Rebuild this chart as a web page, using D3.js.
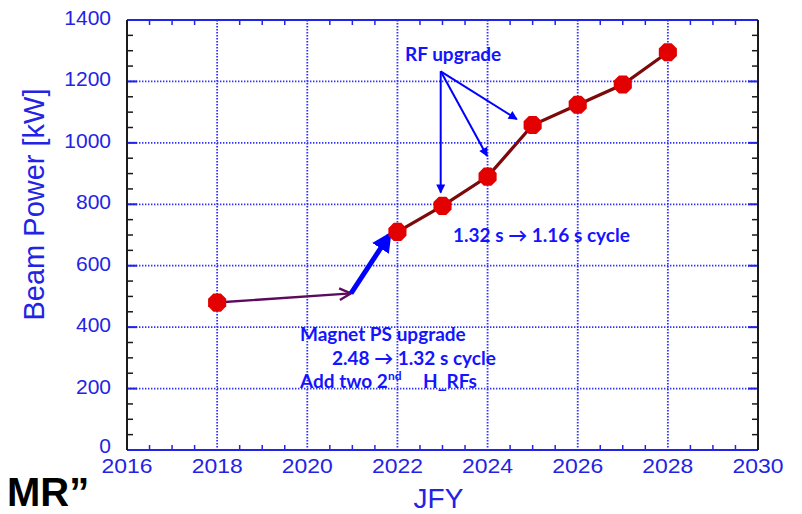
<!DOCTYPE html>
<html>
<head>
<meta charset="utf-8">
<script src="https://cdn.jsdelivr.net/npm/d3@7"></script>
<style>
  html, body { margin: 0; padding: 0; background: #fff; }
  svg { display: block; }
</style>
</head>
<body>
<svg id="chart" width="802" height="514"></svg>
<script>
// Beam power plan by fiscal year
const years = [2018, 2022, 2023, 2024, 2025, 2026, 2027, 2028];
const beamPower = [480, 710, 795, 890, 1058, 1124, 1190, 1295];

const xTicks = [2016, 2018, 2020, 2022, 2024, 2026, 2028, 2030];
const yTicks = [0, 200, 400, 600, 800, 1000, 1200, 1400];

// Annotation arrows, in [year, kW]
const psArrow = [[2018, 480], [2020.97, 510]];
const psBoost = [[2020.97, 510], [2021.82, 700]];
const rfOrigin = [2022.96, 1233];
const rfTargets = [[2022.96, 838], [2023.99, 957], [2024.65, 1077]];

const svg = d3.select("#chart");
const m = { left: 127, right: 758, top: 20, bottom: 450 };

const x = d3.scaleLinear().domain([2016, 2030]).range([m.left, m.right]);
const y = d3.scaleLinear().domain([0, 1400]).range([m.bottom, m.top]);

const blue = "#2323e6";
const axisDark = "#1a1a1a";

// dotted grid
const grid = svg.append("g");
grid.selectAll("line.gx").data(xTicks.slice(1, -1)).join("line")
  .attr("x1", d => x(d)).attr("x2", d => x(d))
  .attr("y1", m.top).attr("y2", m.bottom)
  .attr("stroke", "#3030ff").attr("stroke-width", 1.8).attr("stroke-dasharray", "1.4,1.6");
grid.selectAll("line.gy").data(yTicks.slice(1, -1)).join("line")
  .attr("y1", d => y(d)).attr("y2", d => y(d))
  .attr("x1", m.left).attr("x2", m.right)
  .attr("stroke", "#3030ff").attr("stroke-width", 1.8).attr("stroke-dasharray", "1.4,1.6");

// minor ticks
const xMinor = d3.range(2016.5, 2030, 0.5).filter(v => v % 2 !== 0);
const yMinor = d3.range(50, 1400, 50).filter(v => v % 200 !== 0);
const ticks = svg.append("g");
ticks.selectAll("line.xb").data(xMinor).join("line")
  .attr("x1", d => x(d)).attr("x2", d => x(d))
  .attr("y1", m.bottom).attr("y2", m.bottom - 5)
  .attr("stroke", blue).attr("stroke-width", 1.5);
ticks.selectAll("line.xt").data(xMinor).join("line")
  .attr("x1", d => x(d)).attr("x2", d => x(d))
  .attr("y1", m.top).attr("y2", m.top + 5)
  .attr("stroke", blue).attr("stroke-width", 1.5);
ticks.selectAll("line.yl").data(yMinor).join("line")
  .attr("y1", d => y(d)).attr("y2", d => y(d))
  .attr("x1", m.left).attr("x2", m.left + 6)
  .attr("stroke", axisDark).attr("stroke-width", 1.5);
ticks.selectAll("line.yr").data(yMinor).join("line")
  .attr("y1", d => y(d)).attr("y2", d => y(d))
  .attr("x1", m.right).attr("x2", m.right - 6)
  .attr("stroke", axisDark).attr("stroke-width", 1.5);
// major ticks on the y sides
ticks.selectAll("line.ylM").data(yTicks.slice(1, -1)).join("line")
  .attr("y1", d => y(d)).attr("y2", d => y(d))
  .attr("x1", m.left).attr("x2", m.left + 10)
  .attr("stroke", blue).attr("stroke-width", 2);
ticks.selectAll("line.yrM").data(yTicks.slice(1, -1)).join("line")
  .attr("y1", d => y(d)).attr("y2", d => y(d))
  .attr("x1", m.right).attr("x2", m.right - 10)
  .attr("stroke", blue).attr("stroke-width", 2);

// frame
svg.append("line").attr("x1", m.left).attr("x2", m.right).attr("y1", m.top).attr("y2", m.top)
  .attr("stroke", blue).attr("stroke-width", 2);
svg.append("line").attr("x1", m.left).attr("x2", m.right).attr("y1", m.bottom).attr("y2", m.bottom)
  .attr("stroke", blue).attr("stroke-width", 2);
svg.append("line").attr("x1", m.left).attr("x2", m.left).attr("y1", m.top).attr("y2", m.bottom)
  .attr("stroke", axisDark).attr("stroke-width", 2);
svg.append("line").attr("x1", m.right).attr("x2", m.right).attr("y1", m.top).attr("y2", m.bottom)
  .attr("stroke", axisDark).attr("stroke-width", 2);

// tick labels
const labFont = "'Liberation Sans', Arial, sans-serif";
svg.append("g").selectAll("text").data(xTicks).join("text")
  .attr("x", d => x(d)).attr("y", m.bottom + 23)
  .attr("text-anchor", "middle")
  .attr("font-family", labFont).attr("font-size", 21)
  .attr("fill", blue)
  .attr("textLength", 51).attr("lengthAdjust", "spacingAndGlyphs")
  .text(d => d);
svg.append("g").selectAll("text").data(yTicks).join("text")
  .attr("x", m.left - 16).attr("y", d => y(d) + (d === 0 ? 3 : 5))
  .attr("text-anchor", "end")
  .attr("font-family", labFont).attr("font-size", 21)
  .attr("fill", blue)
  .text(d => d);

// axis titles
svg.append("text")
  .attr("transform", `translate(44, ${(85 + 324) / 2}) rotate(-90)`)
  .attr("text-anchor", "middle")
  .attr("font-family", labFont).attr("font-size", 29)
  .attr("fill", blue)
  .text("Beam Power [kW]");
svg.append("text")
  .attr("x", (415 + 462) / 2).attr("y", 508)
  .attr("text-anchor", "middle")
  .attr("font-family", labFont).attr("font-size", 28)
  .attr("fill", blue)
  .text("JFY");
svg.append("text")
  .attr("x", 7).attr("y", 506)
  .attr("font-family", labFont).attr("font-size", 40).attr("font-weight", "bold")
  .attr("fill", "#000")
  .text("MR\u201D");

// arrowheads
const defs = svg.append("defs");
defs.append("marker").attr("id", "openHead")
  .attr("viewBox", "0 0 10 10").attr("refX", 9).attr("refY", 5)
  .attr("markerWidth", 6).attr("markerHeight", 6).attr("orient", "auto")
  .attr("markerUnits", "strokeWidth")
  .append("path").attr("d", "M1,1 L9,5 L1,9").attr("fill", "none")
  .attr("stroke", "#5c0a5e").attr("stroke-width", 1.6);
defs.append("marker").attr("id", "fatHead")
  .attr("viewBox", "0 0 10 10").attr("refX", 8).attr("refY", 5)
  .attr("markerWidth", 4).attr("markerHeight", 4).attr("orient", "auto")
  .attr("markerUnits", "strokeWidth")
  .append("path").attr("d", "M0,0 L10,5 L0,10 Z").attr("fill", "#0000ff");
defs.append("marker").attr("id", "thinHead")
  .attr("viewBox", "0 0 10 10").attr("refX", 9).attr("refY", 5)
  .attr("markerWidth", 5).attr("markerHeight", 4.5).attr("orient", "auto")
  .attr("markerUnits", "strokeWidth")
  .append("path").attr("d", "M0,0 L10,5 L0,10 Z").attr("fill", "#0000ff");

// data line: the planned ramp from JFY2022 onward
const pts = years.map((yr, i) => [yr, beamPower[i]]);
svg.append("path").datum(pts.slice(1))
  .attr("d", d3.line().x(d => x(d[0])).y(d => y(d[1])))
  .attr("fill", "none").attr("stroke", "#7c0a0a").attr("stroke-width", 3.2);

// magnet PS upgrade arrows
svg.append("line")
  .attr("x1", x(psArrow[0][0])).attr("y1", y(psArrow[0][1]))
  .attr("x2", x(psArrow[1][0])).attr("y2", y(psArrow[1][1]))
  .attr("stroke", "#5c0a5e").attr("stroke-width", 2.4)
  .attr("marker-end", "url(#openHead)");
svg.append("line")
  .attr("x1", x(psBoost[0][0])).attr("y1", y(psBoost[0][1]))
  .attr("x2", x(psBoost[1][0])).attr("y2", y(psBoost[1][1]))
  .attr("stroke", "#0000ff").attr("stroke-width", 5)
  .attr("marker-end", "url(#fatHead)");

// RF upgrade arrows
svg.append("g").selectAll("line").data(rfTargets).join("line")
  .attr("x1", x(rfOrigin[0])).attr("y1", y(rfOrigin[1]))
  .attr("x2", d => x(d[0])).attr("y2", d => y(d[1]))
  .attr("stroke", "#0000ff").attr("stroke-width", 2)
  .attr("marker-end", "url(#thinHead)");

// markers: red octagons
const octagon = r => {
  const a = d3.range(8).map(k => (k + 0.5) * Math.PI / 4);
  return d3.line()(a.map(t => [r * Math.cos(t), r * Math.sin(t)])) + "Z";
};
svg.append("g").selectAll("path").data(pts).join("path")
  .attr("transform", d => `translate(${x(d[0])},${y(d[1])})`)
  .attr("d", octagon(9.8))
  .attr("fill", "#e20000");

// annotation text
const noteFont = "Lato, 'Open Sans', sans-serif";
const note = (tx, ty, str) => svg.append("text")
  .attr("x", tx).attr("y", ty)
  .attr("font-family", noteFont).attr("font-weight", "bold").attr("font-size", 19)
  .attr("fill", "#1414ff").text(str);

note(405, 61, "RF upgrade");
note(453, 242, "1.32 s \u2192 1.16 s cycle");
note(300, 341, "Magnet PS upgrade");
note(332, 365, "2.48 \u2192 1.32 s cycle");
const add = note(300, 388, "Add two 2");
add.append("tspan").attr("dy", -8).attr("font-size", 12).text("nd");
add.append("tspan").attr("x", 423).attr("dy", 8).text("H_RFs");
</script>
</body>
</html>
